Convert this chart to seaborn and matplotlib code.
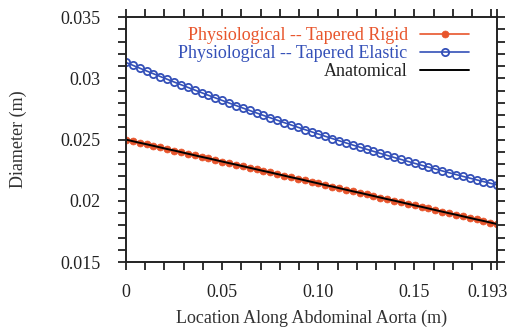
import matplotlib
matplotlib.use("Agg")
import matplotlib.pyplot as plt
import matplotlib.transforms as mtransforms
import seaborn as sns
import pandas as pd
from matplotlib.ticker import FixedLocator

location = [0.0, 0.00357, 0.00715, 0.01072, 0.01430, 0.01787, 0.02144, 0.02502, 0.02859, 0.03217,
            0.03574, 0.03931, 0.04289, 0.04646, 0.05004, 0.05361, 0.05719, 0.06076, 0.06433, 0.06791,
            0.07148, 0.07506, 0.07863, 0.08220, 0.08578, 0.08935, 0.09293, 0.09650, 0.10007, 0.10365,
            0.10722, 0.11080, 0.11437, 0.11794, 0.12152, 0.12509, 0.12867, 0.13224, 0.13581, 0.13939,
            0.14296, 0.14654, 0.15011, 0.15369, 0.15726, 0.16083, 0.16441, 0.16798, 0.17156, 0.17513,
            0.17870, 0.18228, 0.18585, 0.18943, 0.19300]

rigid = [0.02500, 0.02487, 0.02474, 0.02462, 0.02449, 0.02436, 0.02423, 0.02411, 0.02398, 0.02385,
         0.02372, 0.02359, 0.02347, 0.02334, 0.02321, 0.02308, 0.02296, 0.02283, 0.02270, 0.02257,
         0.02244, 0.02232, 0.02219, 0.02206, 0.02193, 0.02181, 0.02168, 0.02155, 0.02142, 0.02129,
         0.02117, 0.02104, 0.02091, 0.02078, 0.02066, 0.02053, 0.02040, 0.02027, 0.02014, 0.02002,
         0.01989, 0.01976, 0.01963, 0.01951, 0.01938, 0.01925, 0.01912, 0.01899, 0.01887, 0.01874,
         0.01861, 0.01848, 0.01836, 0.01823, 0.01810]

elastic = [0.031300, 0.031067, 0.030835, 0.030605, 0.030377, 0.030151, 0.029927, 0.029704, 0.029484, 0.029265,
           0.029048, 0.028833, 0.028619, 0.028408, 0.028198, 0.027990, 0.027784, 0.027579, 0.027377, 0.027176,
           0.026977, 0.026780, 0.026585, 0.026392, 0.026200, 0.026010, 0.025823, 0.025636, 0.025452, 0.025270,
           0.025089, 0.024910, 0.024733, 0.024558, 0.024385, 0.024213, 0.024043, 0.023875, 0.023709, 0.023545,
           0.023382, 0.023222, 0.023063, 0.022906, 0.022751, 0.022597, 0.022446, 0.022296, 0.022148, 0.022002,
           0.021858, 0.021715, 0.021575, 0.021436, 0.021299]

anatomical = rigid

series_names = ["Physiological -- Tapered Rigid", "Physiological -- Tapered Elastic", "Anatomical"]
x_tick_values = [0, 0.05, 0.10, 0.15, 0.193]
x_tick_labels = ["0", "0.05", "0.10", "0.15", "0.193"]
y_tick_values = [0.015, 0.02, 0.025, 0.03, 0.035]
y_tick_labels = ["0.015", "0.02", "0.025", "0.03", "0.035"]

sns.set_style("ticks")
plt.rcParams["font.family"] = ["Liberation Serif", "DejaVu Serif"]

df = pd.DataFrame({"x": location, "rigid": rigid, "elastic": elastic, "anat": anatomical})

fig = plt.figure(figsize=(5.12, 3.36), dpi=100)
ax = fig.add_axes([0.246, 0.220, 0.725, 0.729])

c_rigid = "#e8552c"
c_elastic = "#3450b8"
FS = 13

sns.lineplot(data=df, x="x", y="elastic", ax=ax, color=c_elastic, lw=1.2,
             marker="o", markersize=5.2, markerfacecolor="none",
             markeredgecolor=c_elastic, markeredgewidth=1.3, label=series_names[1])
sns.lineplot(data=df, x="x", y="rigid", ax=ax, color=c_rigid, lw=1.2,
             marker="o", markersize=5, markerfacecolor=c_rigid,
             markeredgecolor=c_rigid, markeredgewidth=0.5, label=series_names[0])
sns.lineplot(data=df, x="x", y="anat", ax=ax, color="black", lw=1.4, label=series_names[2])

ax.set_xlim(0, 0.193)
ax.set_ylim(0.015, 0.035)

ax.xaxis.set_major_locator(FixedLocator(x_tick_values))
ax.set_xticklabels(x_tick_labels)
ax.xaxis.set_minor_locator(FixedLocator([i / 100 for i in range(1, 20)]))
ax.yaxis.set_major_locator(FixedLocator(y_tick_values))
ax.set_yticklabels(y_tick_labels)
ax.yaxis.set_minor_locator(FixedLocator([0.015 + i * 0.001 for i in range(21)]))

for which in ("major", "minor"):
    ax.tick_params(axis="both", which=which, direction="out", length=6, width=1.3,
                   top=True, right=True, color="#222222")
ax.tick_params(axis="x", which="major", labelsize=FS, pad=10, labelcolor="#222222")
ax.tick_params(axis="y", which="major", labelsize=FS, pad=12.5, labelcolor="#222222")
for s in ax.spines.values():
    s.set_linewidth(1.4)
    s.set_color("#222222")

# shift the last x tick label slightly left, as in the reference
last = ax.get_xticklabels()[-1]
last.set_transform(last.get_transform() + mtransforms.ScaledTranslation(-10 / 100, 0, fig.dpi_scale_trans))

ax.set_xlabel("Location Along Abdominal Aorta (m)", fontsize=FS, color="#333333", labelpad=6)
ax.set_ylabel("Diameter (m)", fontsize=FS, color="#333333", labelpad=24)

handles, labels = ax.get_legend_handles_labels()
order = [labels.index(n) for n in series_names]
leg = ax.legend([handles[i] for i in order], [labels[i] for i in order],
                loc="upper right", bbox_to_anchor=(0.951, 1.0), frameon=False,
                markerfirst=False, fontsize=FS, handlelength=2.7,
                labelspacing=0.05, handletextpad=0.7, borderaxespad=0.15)
for txt, col in zip(leg.get_texts(), [c_rigid, c_elastic, "#222222"]):
    txt.set_color(col)

fig.savefig("out.png", dpi=100)
